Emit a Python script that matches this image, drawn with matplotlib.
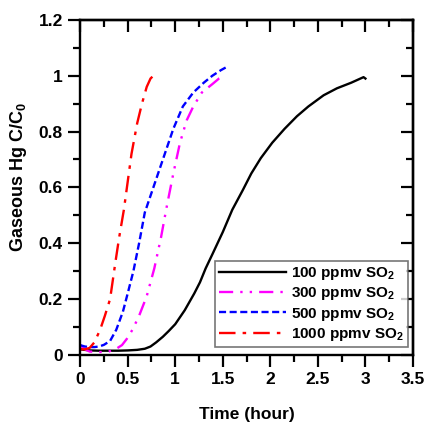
import matplotlib
matplotlib.use('Agg')
import matplotlib.pyplot as plt
from matplotlib.ticker import MultipleLocator, FuncFormatter

plt.rcParams['font.family'] = ['Liberation Sans', 'DejaVu Sans']
plt.rcParams['font.weight'] = 'bold'
plt.rcParams['mathtext.fontset'] = 'custom'
plt.rcParams['mathtext.rm'] = 'Liberation Sans:bold'
plt.rcParams['mathtext.it'] = 'Liberation Sans:bold'
plt.rcParams['mathtext.bf'] = 'Liberation Sans:bold'
plt.rcParams['mathtext.default'] = 'regular'

# 100 ppmv SO2
t_100 = [0.0, 0.05, 0.1, 0.2, 0.3, 0.4, 0.5, 0.6, 0.68, 0.74, 0.8, 0.87, 0.93, 1.0, 1.1, 1.2, 1.26,
         1.32, 1.39, 1.5, 1.6, 1.71, 1.8, 1.9, 2.02, 2.15, 2.28, 2.4, 2.56, 2.7, 2.85, 2.98, 3.0]
c_100 = [0.02, 0.018, 0.016, 0.015, 0.015, 0.015, 0.016, 0.018, 0.022, 0.03, 0.045, 0.065, 0.085, 0.11,
         0.16, 0.22, 0.26, 0.31, 0.36, 0.44, 0.52, 0.59, 0.65, 0.705, 0.76, 0.81, 0.855, 0.89, 0.93, 0.955,
         0.975, 0.995, 0.99]

# 300 ppmv SO2
t_300 = [0.0, 0.05, 0.1, 0.2, 0.3, 0.38, 0.44, 0.49, 0.55, 0.62, 0.7, 0.78, 0.85, 0.91, 0.98, 1.05,
         1.12, 1.19, 1.28, 1.39, 1.46, 1.52]
c_300 = [0.035, 0.02, 0.012, 0.01, 0.012, 0.022, 0.035, 0.057, 0.09, 0.14, 0.21, 0.31, 0.42, 0.53, 0.65,
         0.76, 0.84, 0.89, 0.94, 0.97, 0.99, 1.0]

# 500 ppmv SO2
t_500 = [0.0, 0.05, 0.1, 0.15, 0.2, 0.25, 0.315, 0.38, 0.45, 0.5, 0.56, 0.62, 0.68, 0.75, 0.81, 0.9,
         0.98, 1.08, 1.19, 1.3, 1.39, 1.48, 1.56]
c_500 = [0.035, 0.03, 0.028, 0.028, 0.03, 0.036, 0.05, 0.09, 0.155, 0.22, 0.3, 0.4, 0.51, 0.58, 0.64,
         0.73, 0.81, 0.89, 0.94, 0.975, 1.0, 1.02, 1.035]

# 1000 ppmv SO2
t_1000 = [0.0, 0.05, 0.1, 0.15, 0.21, 0.26, 0.315, 0.37, 0.41, 0.46, 0.5, 0.54, 0.6, 0.65, 0.7, 0.74,
          0.77, 0.8, 0.82]
c_1000 = [0.02, 0.02, 0.025, 0.045, 0.09, 0.14, 0.2, 0.33, 0.42, 0.52, 0.62, 0.72, 0.83, 0.9, 0.96, 0.99,
          1.0, 1.005, 1.0]

labels = ['100 ppmv SO$_2$', '300 ppmv SO$_2$', '500 ppmv SO$_2$', '1000 ppmv SO$_2$']

fig = plt.figure(figsize=(4.24, 4.24), dpi=100)
ax = fig.add_axes([0.189, 0.163, 0.785, 0.79])

ax.plot(t_100, c_100, color='black', lw=1.7, ls='-', label=labels[0])
ax.plot(t_300, c_300, color='#ff00ff', lw=1.7, ls=(0, (6, 3, 1, 3, 1, 3)), label=labels[1])
ax.plot(t_500, c_500, color='#0000ff', lw=1.7, ls=(0, (3, 1.5)), label=labels[2])
ax.plot(t_1000, c_1000, color='#ff0000', lw=1.7, ls=(0, (7, 3, 1.5, 3)), label=labels[3])

ax.set_xlim(0, 3.5)
ax.set_ylim(0, 1.2)
ax.xaxis.set_major_locator(MultipleLocator(0.5))
ax.xaxis.set_minor_locator(MultipleLocator(0.25))
ax.yaxis.set_major_locator(MultipleLocator(0.2))
ax.yaxis.set_minor_locator(MultipleLocator(0.1))
fmt = FuncFormatter(lambda v, p: '%g' % round(v, 2))
ax.xaxis.set_major_formatter(fmt)
ax.yaxis.set_major_formatter(fmt)

for s in ax.spines.values():
    s.set_linewidth(1.7)

ax.tick_params(which='both', direction='out', width=1.6, labelsize=12.5, top=False, right=False)
ax.tick_params(which='major', length=8.5, pad=4)
ax.tick_params(which='minor', length=5)

# inward mirrored ticks on top and right
axt = ax.secondary_xaxis('top')
axt.xaxis.set_major_locator(MultipleLocator(0.5))
axt.xaxis.set_minor_locator(MultipleLocator(0.25))
axt.tick_params(which='both', direction='in', width=1.6, labeltop=False)
axt.tick_params(which='major', length=8.5)
axt.tick_params(which='minor', length=5)
axt.spines['top'].set_linewidth(1.7)
axr = ax.secondary_yaxis('right')
axr.yaxis.set_major_locator(MultipleLocator(0.2))
axr.yaxis.set_minor_locator(MultipleLocator(0.1))
axr.tick_params(which='both', direction='in', width=1.6, labelright=False)
axr.tick_params(which='major', length=8.5)
axr.tick_params(which='minor', length=5)
axr.spines['right'].set_linewidth(1.7)

ax.set_xlabel('Time (hour)', fontsize=12.5, fontweight='bold', labelpad=14)
ax.set_ylabel('Gaseous Hg C/C$_0$', fontsize=13, fontweight='bold')
ax.yaxis.set_label_coords(-0.155, 0.53)

leg = ax.legend(loc='lower right', fontsize=11, frameon=True, fancybox=False, handlelength=4.4,
                borderpad=0.25, labelspacing=0.22, handletextpad=0.35, borderaxespad=0,
                bbox_to_anchor=(0.985, 0.024))
leg.get_frame().set_edgecolor('#555555')
leg.get_frame().set_linewidth(1.2)
for txt in leg.get_texts():
    txt.set_fontweight('bold')

fig.savefig('out.png', dpi=100)
